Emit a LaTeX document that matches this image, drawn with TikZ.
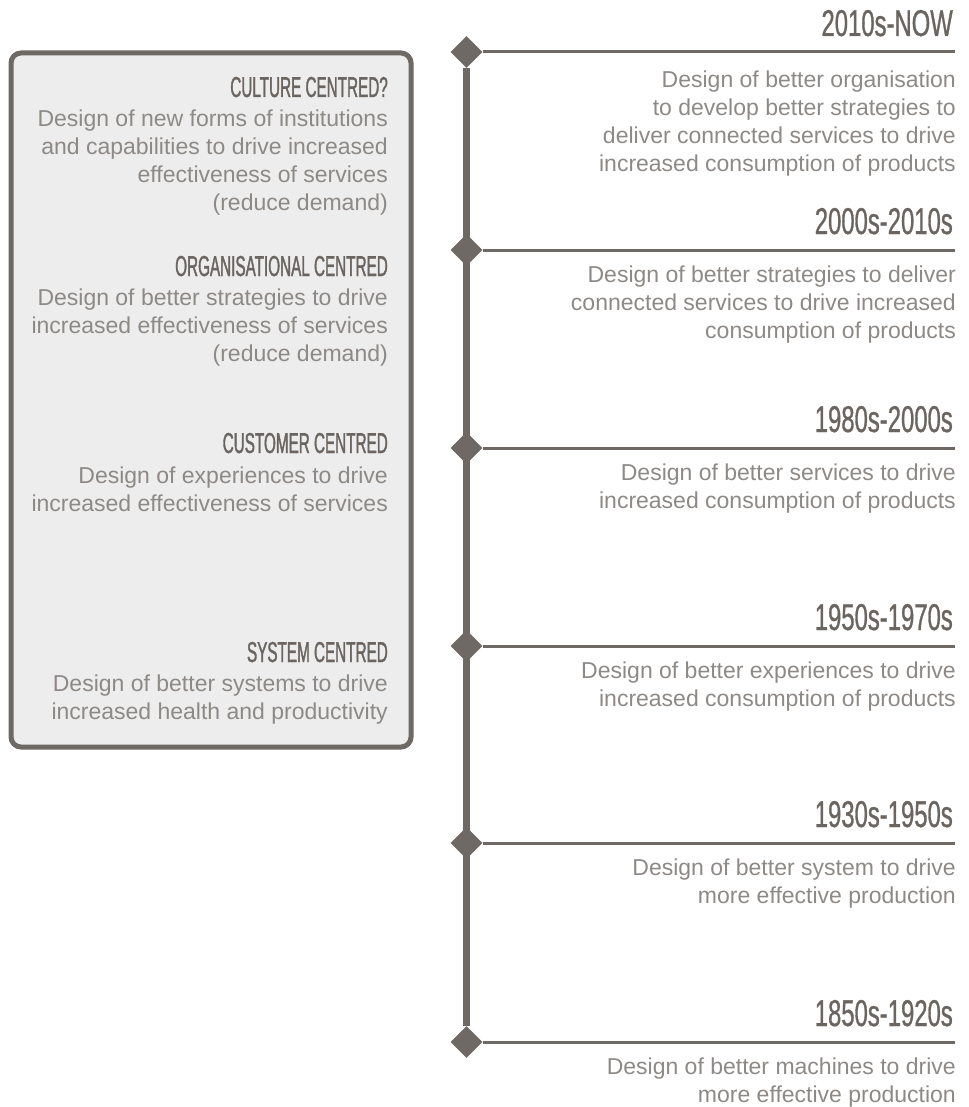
\documentclass[tikz,border=0pt]{standalone}
\usepackage{fontspec}
\setmainfont{Liberation Sans}
\newfontfamily\yearfont[FakeStretch=0.64, FakeBold=0.8]{Liberation Sans}
\newfontfamily\capfont[FakeStretch=0.53, FakeBold=1.2]{Liberation Sans}
\usetikzlibrary{shapes.geometric}

\definecolor{linegrey}{HTML}{6E6964}
\definecolor{headgrey}{HTML}{6A6560}
\definecolor{textgrey}{HTML}{8D8986}
\definecolor{boxgrey}{HTML}{EDEDED}

\tikzset{
  year/.style={anchor=base east, inner sep=0, text=headgrey, font=\yearfont\fontsize{37.3}{40}\selectfont},
  era/.style={anchor=base east, inner sep=0, text=headgrey, font=\capfont\fontsize{28.8}{30}\selectfont},
  desc/.style={anchor=north east, inner sep=0, align=right, text=textgrey, font=\fontsize{23}{28}\selectfont},
  knot/.style={diamond, fill=linegrey, inner sep=0, minimum width=32, minimum height=32},
}

\begin{document}
\begin{tikzpicture}[x=1pt,y=-1pt]
\useasboundingbox (0,0) rectangle (968,1107);
% Parameters
\def\xline{466.5}; \def\xend{955};
\def\xyear{953}; \def\xdesc{956}; \def\xbox{388};

% Box
\draw[linegrey, fill=boxgrey, line width=5, rounded corners=10] (11,53) rectangle (411,747);

% Timeline
\node[knot] (d1) at (\xline,52) {};
\node[knot] (d2) at (\xline,250) {};
\node[knot] (d3) at (\xline,448) {};
\node[knot] (d4) at (\xline,646) {};
\node[knot] (d5) at (\xline,843) {};
\node[knot] (d6) at (\xline,1042) {};
\coordinate (e1) at (\xend,52);
\coordinate (e2) at (\xend,250);
\coordinate (e3) at (\xend,448);
\coordinate (e4) at (\xend,646);
\coordinate (e5) at (\xend,843);
\coordinate (e6) at (\xend,1042);
\draw[linegrey, line width=6.5] (d1) -- (d6);
\draw[linegrey, line width=3] (d1) -- (e1);
\draw[linegrey, line width=3] (d2) -- (e2);
\draw[linegrey, line width=3] (d3) -- (e3);
\draw[linegrey, line width=3] (d4) -- (e4);
\draw[linegrey, line width=3] (d5) -- (e5);
\draw[linegrey, line width=3] (d6) -- (e6);

% Years
\node[year] (y1) at (\xyear,36) {2010s-NOW};
\node[year] (y2) at (\xyear,234) {2000s-2010s};
\node[year] (y3) at (\xyear,432) {1980s-2000s};
\node[year] (y4) at (\xyear,630) {1950s-1970s};
\node[year] (y5) at (\xyear,827) {1930s-1950s};
\node[year] (y6) at (\xyear,1026) {1850s-1920s};

% Descriptions
\node[desc] (t1) at (\xdesc,71) {Design of better organisation\\to develop better strategies to\\deliver connected services to drive\\increased consumption of products};
\node[desc] (t2) at (\xdesc,266) {Design of better strategies to deliver\\connected services to drive increased\\consumption of products};
\node[desc] (t3) at (\xdesc,464) {Design of better services to drive\\increased consumption of products};
\node[desc] (t4) at (\xdesc,662) {Design of better experiences to drive\\increased consumption of products};
\node[desc] (t5) at (\xdesc,859) {Design of better system to drive\\more effective production};
\node[desc] (t6) at (\xdesc,1058) {Design of better machines to drive\\more effective production};

% Box labels
\node[era] (c1) at (\xbox,97) {CULTURE CENTRED?};
\node[desc] (b1) at (\xbox,110) {Design of new forms of institutions\\and capabilities to drive increased\\effectiveness of services\\(reduce demand)};
\node[era] (c2) at (\xbox,276) {ORGANISATIONAL CENTRED};
\node[desc] (b2) at (\xbox,289) {Design of better strategies to drive\\increased effectiveness of services\\(reduce demand)};
\node[era] (c3) at (\xbox,453) {CUSTOMER CENTRED};
\node[desc] (b3) at (\xbox,467) {Design of experiences to drive\\increased effectiveness of services};
\node[era] (c4) at (\xbox,662) {SYSTEM CENTRED};
\node[desc] (b4) at (\xbox,675) {Design of better systems to drive\\increased health and productivity};
\end{tikzpicture}
\end{document}
